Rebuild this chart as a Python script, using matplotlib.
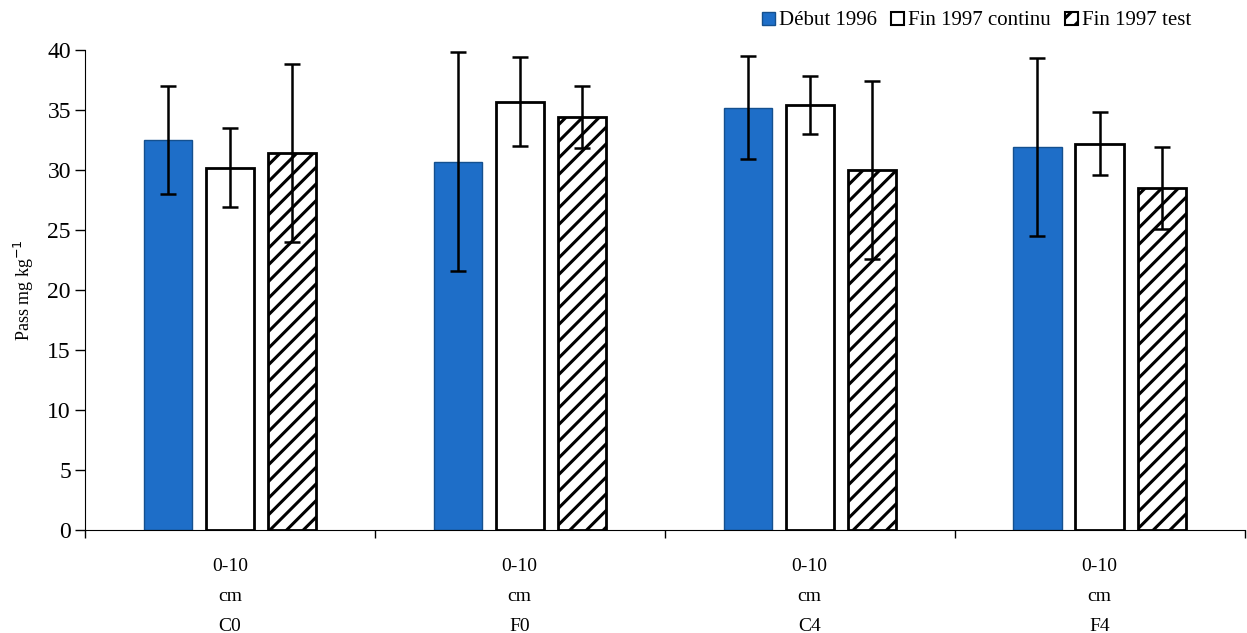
import numpy as np
import matplotlib
matplotlib.use('Agg')
import matplotlib.pyplot as plt
from matplotlib.patches import Patch

plt.rcParams['font.family'] = ['Liberation Serif', 'DejaVu Serif']
plt.rcParams['hatch.linewidth'] = 2.2

categories = ['0-10\ncm\nC0', '0-10\ncm\nF0', '0-10\ncm\nC4', '0-10\ncm\nF4']
series_names = ['Début 1996', 'Fin 1997 continu', 'Fin 1997 test']
debut_1996 = [32.5, 30.7, 35.2, 31.9]
debut_1996_err = [4.5, 9.1, 4.3, 7.4]
fin_continu = [30.2, 35.7, 35.4, 32.2]
fin_continu_err = [3.3, 3.7, 2.4, 2.6]
fin_test = [31.4, 34.4, 30.0, 28.5]
fin_test_err = [7.4, 2.6, 7.4, 3.4]

fig = plt.figure(figsize=(12.47, 6.33), dpi=100)
ax = fig.add_axes([0.068, 0.163, 0.93, 0.758])

x = np.arange(len(categories))
step = 0.214
width = 0.166
err_kw = dict(ecolor='black', elinewidth=1.8, capsize=6, capthick=1.8)

ax.bar(x - step, debut_1996, width, yerr=debut_1996_err, color='#1E6EC8',
       edgecolor='#14508f', linewidth=1, error_kw=err_kw)
ax.bar(x, fin_continu, width, yerr=fin_continu_err, color='white',
       edgecolor='black', linewidth=2, error_kw=err_kw)
ax.bar(x + step, fin_test, width, yerr=fin_test_err, color='white',
       edgecolor='black', linewidth=2, hatch='//', error_kw=err_kw)

ax.set_xlim(-0.5, 3.5)
ax.set_ylim(0, 40)
ax.set_yticks(np.arange(0, 41, 5))
ax.set_xticks(x)
ax.set_xticklabels(categories, fontsize=14, linespacing=2.0)
ax.set_xticks(np.arange(-0.5, 3.6, 1), minor=True)
ax.tick_params(axis='x', which='major', length=0, pad=20)
ax.tick_params(axis='x', which='minor', length=6, width=1, direction='out')
ax.tick_params(axis='y', labelsize=17, length=7, width=1, direction='out', pad=3)
ax.spines['top'].set_visible(False)
ax.spines['right'].set_visible(False)
ax.set_ylabel('Pass mg kg$^{-1}$', fontsize=13, labelpad=8)

handles = [Patch(facecolor='#1E6EC8', edgecolor='#14508f'),
           Patch(facecolor='white', edgecolor='black', linewidth=1.5),
           Patch(facecolor='white', edgecolor='black', hatch='//', linewidth=1.5)]
fig.legend(handles, series_names, loc='upper right', bbox_to_anchor=(0.962, 0.995),
           ncol=3, frameon=False, fontsize=15, handlelength=0.6, handleheight=0.6,
           handletextpad=0.2, columnspacing=0.7, borderaxespad=0)

fig.savefig('out.png', dpi=100)
